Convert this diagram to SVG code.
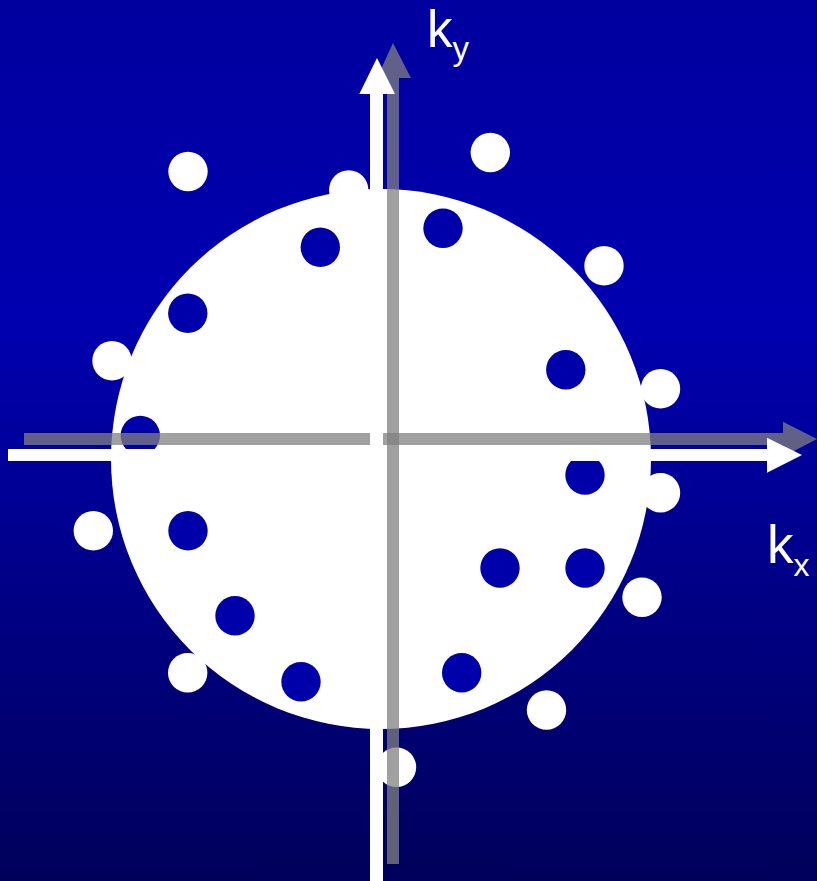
<svg xmlns="http://www.w3.org/2000/svg" width="817" height="881" viewBox="0 0 817 881">
  <defs>
    <linearGradient id="bg" x1="0" y1="0" x2="0" y2="1">
      <stop offset="0" stop-color="#00009E"/>
      <stop offset="0.36" stop-color="#0000B0"/>
      <stop offset="1" stop-color="#00005A"/>
    </linearGradient>
    <style>
      .wd { fill: #FFFFFF; }
      .bd { fill: #0000AA; }
      .white-arrow { fill: #FFFFFF; }
      .gray-arrow { fill: #808080; fill-opacity: 0.75; }
      .lbl { font-family: "Liberation Sans", "DejaVu Sans", sans-serif; fill: #FFFFFF; }
    </style>
  </defs>

  <rect id="background" x="0" y="0" width="817" height="881" fill="url(#bg)"/>

  <circle id="disc" cx="381" cy="459" r="270" fill="#FFFFFF"/>

  <g id="white-dots">
    <circle class="wd" cx="188" cy="171.5" r="19.7"/>
    <circle class="wd" cx="348.7" cy="190" r="19.7"/>
    <circle class="wd" cx="490.3" cy="152.5" r="19.7"/>
    <circle class="wd" cx="604" cy="265.8" r="19.7"/>
    <circle class="wd" cx="112" cy="360.8" r="19.7"/>
    <circle class="wd" cx="660.5" cy="388.8" r="19.7"/>
    <circle class="wd" cx="660.5" cy="492.7" r="19.7"/>
    <circle class="wd" cx="93.3" cy="530.8" r="19.7"/>
    <circle class="wd" cx="642" cy="597.2" r="19.7"/>
    <circle class="wd" cx="187.7" cy="672.7" r="19.7"/>
    <circle class="wd" cx="546.5" cy="710" r="19.7"/>
    <circle class="wd" cx="396.5" cy="767.2" r="19.7"/>
  </g>

  <g id="blue-dots">
    <circle class="bd" cx="320.3" cy="247.3" r="19.7"/>
    <circle class="bd" cx="443" cy="228.2" r="19.7"/>
    <circle class="bd" cx="187.8" cy="313.3" r="19.7"/>
    <circle class="bd" cx="565.8" cy="369.7" r="19.7"/>
    <circle class="bd" cx="140.3" cy="435.5" r="19.7"/>
    <circle class="bd" cx="585" cy="475" r="19.7"/>
    <circle class="bd" cx="188" cy="530.8" r="19.7"/>
    <circle class="bd" cx="500" cy="568" r="19.7"/>
    <circle class="bd" cx="585" cy="568" r="19.7"/>
    <circle class="bd" cx="235" cy="615.7" r="19.7"/>
    <circle class="bd" cx="301" cy="681.7" r="19.7"/>
    <circle class="bd" cx="461.7" cy="672.7" r="19.7"/>
  </g>

  <g id="axes">
    <path id="kx-gray" class="gray-arrow" d="M24,433 H783 V421.7 L817,439 L783,456.7 V445 H24 Z"/>
    <path id="kx-white" class="white-arrow" d="M8,449 H767 V437.7 L802,455 L767,472.7 V461 H8 Z"/>
    <path id="ky-gray" class="gray-arrow" d="M387,864 V78 H377 L393,43 L411,78 H399 V864 Z"/>
    <path id="ky-white" class="white-arrow" d="M370,881 V94 H359.3 L377,58 L395,94 H383 V881 Z"/>
  </g>

  <g id="labels">
    <text class="lbl" x="427" y="47" font-size="51">k<tspan font-size="33" dy="13">y</tspan></text>
    <text class="lbl" x="767" y="563" font-size="53">k<tspan font-size="32" dy="13">x</tspan></text>
  </g>
</svg>
